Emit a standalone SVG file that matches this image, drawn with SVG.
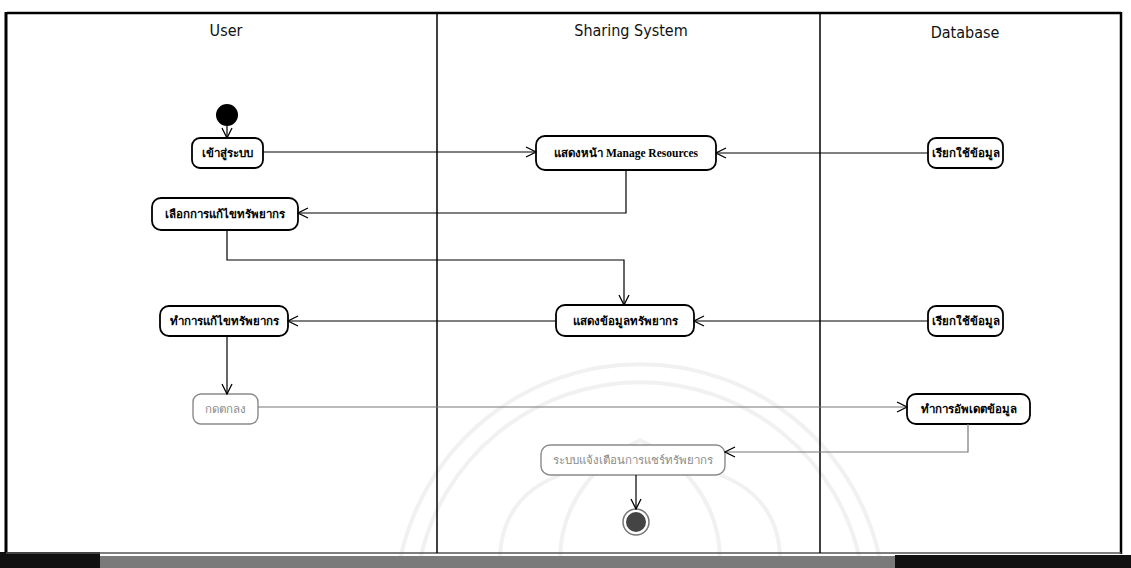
<svg xmlns="http://www.w3.org/2000/svg" width="1131" height="568" viewBox="0 0 1131 568">
  <defs>
    <style>
      .lane-title { font-family: "Liberation Sans Narrow", "DejaVu Sans Condensed", "Liberation Sans", sans-serif; font-size: 16px; fill: #111; text-anchor: middle; }
      .act rect { fill: #fff; stroke: #000; stroke-width: 1.8; }
      .act text { font-family: "Liberation Serif", "Noto Sans", serif; font-size: 11.5px; font-weight: bold; fill: #000; text-anchor: middle; dominant-baseline: central; }
      .act.faded rect { stroke: #8a8a8a; stroke-width: 1.4; }
      .act.faded text { fill: #8a8a8a; font-weight: normal; }
      .flow { fill: none; stroke: #000; stroke-width: 1.2; marker-end: url(#open); }
      .flow.faded { stroke: #777; }
      .lane { stroke: #000; stroke-width: 1.5; }
      .emblem { fill: none; stroke: #f1f1f1; stroke-width: 4; }
    </style>
    <marker id="open" viewBox="0 0 12 12" refX="11" refY="6" markerWidth="12" markerHeight="12" markerUnits="userSpaceOnUse" orient="auto">
      <path d="M1 1 L11 6 L1 11" fill="none" stroke="#000" stroke-width="1.3"/>
    </marker>
  </defs>

  <rect width="1131" height="568" fill="#fff"/>

  <!-- faint background emblem -->
  <g id="emblem">
    <path class="emblem" d="M400 560 A245 245 0 0 1 880 560"/>
    <path class="emblem" d="M420 560 A225 225 0 0 1 860 560"/>
    <path class="emblem" d="M560 560 C560 500 600 460 640 440 C680 460 720 500 720 560"/>
    <path class="emblem" d="M500 560 C500 520 520 490 560 475"/>
    <path class="emblem" d="M780 560 C780 520 760 490 720 475"/>
  </g>

  <!-- frame and swimlanes -->
  <g id="frame">
    <rect x="0" y="556" width="1131" height="12" fill="#7a7a7a"/>
    <rect x="0" y="552" width="100" height="16" fill="#111"/>
    <rect x="895" y="555" width="236" height="13" fill="#111"/>
    <line x1="7" y1="13" x2="1121" y2="13" stroke="#000" stroke-width="2.5"/>
    <line x1="6" y1="12" x2="6" y2="553" stroke="#000" stroke-width="3"/>
    <line x1="1121" y1="12" x2="1121" y2="554" stroke="#000" stroke-width="2.5"/>
    <line x1="6" y1="553" x2="1121" y2="553" stroke="#555" stroke-width="1.5"/>
    <line class="lane" x1="437" y1="13" x2="437" y2="553"/>
    <line class="lane" x1="820" y1="13" x2="820" y2="553"/>
    <text class="lane-title" x="226" y="36">User</text>
    <text class="lane-title" x="631" y="36">Sharing System</text>
    <text class="lane-title" x="965" y="38">Database</text>
  </g>

  <!-- start / end -->
  <g id="start">
    <circle cx="227" cy="115" r="11" fill="#000"/>
  </g>
  <g id="end">
    <circle cx="636" cy="522" r="13" fill="#fff" stroke="#777" stroke-width="1.5"/>
    <circle cx="636" cy="522" r="10" fill="#444"/>
  </g>

  <!-- activities -->
  <g id="login" class="act">
    <rect x="192" y="138" width="71" height="30" rx="8"/>
    <text x="227.5" y="153">เข้าสู่ระบบ</text>
  </g>
  <g id="show-manage" class="act">
    <rect x="536" y="136" width="180" height="34" rx="9"/>
    <text x="626" y="153">แสดงหน้า Manage Resources</text>
  </g>
  <g id="fetch-1" class="act">
    <rect x="928" y="138" width="75" height="30" rx="8"/>
    <text x="965.5" y="153">เรียกใช้ข้อมูล</text>
  </g>
  <g id="choose-edit" class="act">
    <rect x="152" y="198" width="146" height="32" rx="9"/>
    <text x="225" y="214">เลือกการแก้ไขทรัพยากร</text>
  </g>
  <g id="show-resource" class="act">
    <rect x="556" y="305" width="138" height="31" rx="9"/>
    <text x="625" y="320.5">แสดงข้อมูลทรัพยากร</text>
  </g>
  <g id="fetch-2" class="act">
    <rect x="928" y="306" width="75" height="30" rx="8"/>
    <text x="965.5" y="321">เรียกใช้ข้อมูล</text>
  </g>
  <g id="do-edit" class="act">
    <rect x="160" y="306" width="128" height="30" rx="9"/>
    <text x="224" y="321">ทำการแก้ไขทรัพยากร</text>
  </g>
  <g id="confirm" class="act faded">
    <rect x="193" y="394" width="65" height="30" rx="8"/>
    <text x="225.5" y="409">กดตกลง</text>
  </g>
  <g id="update" class="act">
    <rect x="907" y="394" width="123" height="30" rx="9"/>
    <text x="968.5" y="409">ทำการอัพเดตข้อมูล</text>
  </g>
  <g id="notify" class="act faded">
    <rect x="541" y="445" width="184" height="30" rx="9"/>
    <text x="633" y="460">ระบบแจ้งเตือนการแชร์ทรัพยากร</text>
  </g>

  <!-- control flows -->
  <g id="connectors">
    <path class="flow" d="M227 126 V138"/>
    <path class="flow" d="M263 152 H536"/>
    <path class="flow" d="M928 153 H716"/>
    <path class="flow" d="M626 170 V213 H298"/>
    <path class="flow" d="M227 230 V260 H624 V305"/>
    <path class="flow" d="M556 321 H288"/>
    <path class="flow" d="M928 321 H694"/>
    <path class="flow" d="M227 336 V394"/>
    <path class="flow faded" d="M258 407 H907"/>
    <path class="flow faded" d="M968 424 V452 H725"/>
    <path class="flow" d="M636 475 V509"/>
  </g>
</svg>
